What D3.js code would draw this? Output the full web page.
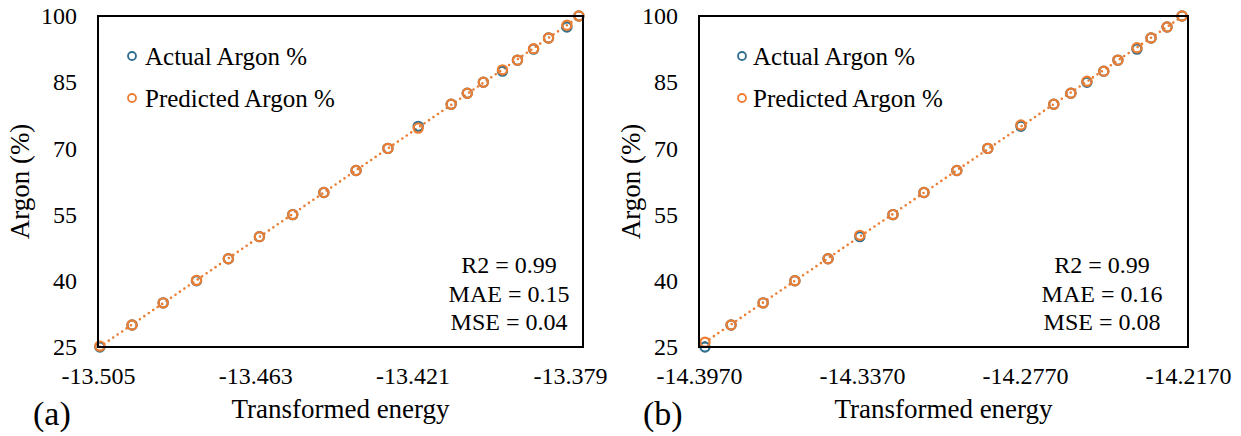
<!DOCTYPE html>
<html>
<head>
<meta charset="utf-8">
<script src="https://cdn.jsdelivr.net/npm/d3@7"></script>
<style>
  html, body { margin: 0; padding: 0; background: #fff; }
  svg { display: block; font-family: "Liberation Serif", "Times New Roman", serif; }
</style>
</head>
<body>
<svg id="chart" width="1241" height="436"></svg>
<script>
// Argon concentration levels (actual values, %)
const argonLevels = [25, 30, 35, 40, 45, 50, 55, 60, 65, 70, 75, 80, 82.5, 85, 87.5, 90, 92.5, 95, 97.5, 100];

// Panel (a): transformed energy and predicted argon %
const energyA = [-13.5045, -13.4959, -13.4876, -13.4787, -13.4702, -13.4619, -13.4530, -13.4447, -13.4361, -13.4276,
                 -13.4195, -13.4107, -13.4064, -13.4021, -13.3970, -13.3930, -13.3887, -13.3847, -13.3798, -13.3766];
const predictedA = [25.2, 30, 35, 40.1, 45, 50, 55, 60, 65, 70, 74.6, 80, 82.5, 85, 87.8, 90, 92.6, 95, 97.9, 100];

// Panel (b): transformed energy and predicted argon %
const energyB = [-14.3948, -14.3852, -14.3734, -14.3617, -14.3495, -14.3378, -14.3256, -14.3142, -14.3021, -14.2907,
                 -14.2785, -14.2664, -14.2601, -14.2542, -14.2480, -14.2428, -14.2358, -14.2306, -14.2247, -14.2192];
const predictedB = [26.1, 30, 35, 40, 45, 50.3, 55, 60, 65, 70, 75.3, 80, 82.5, 85.2, 87.5, 90, 92.8, 95, 97.5, 100];

// Axis ticks
const yTicks = [25, 40, 55, 70, 85, 100];
const xTicksA = [-13.505, -13.463, -13.421, -13.379];
const xTicksB = [-14.397, -14.337, -14.277, -14.217];

// Error metrics
const statsA = ["R2 = 0.99", "MAE = 0.15", "MSE = 0.04"];
const statsB = ["R2 = 0.99", "MAE = 0.16", "MSE = 0.08"];

const seriesNames = ["Actual Argon %", "Predicted Argon %"];
const colors = { actual: "#2f6f8f", predicted: "#ed7d31" };

const svg = d3.select("#chart");

// Fixed-decimal formatter that keeps a plain hyphen for negatives
const fixed = digits => v => v.toFixed(digits);

const panels = [
  { tag: "(a)", left: 98, right: 583, xDomain: [-13.505, -13.3755], xTicks: xTicksA, fmt: fixed(3),
    energy: energyA, predicted: predictedA, stats: statsA, legendX: 34, legendTextX: 47, statsX: 74,
    yTitleX: 29, tagX: 33 },
  { tag: "(b)", left: 699, right: 1188, xDomain: [-14.397, -14.217], xTicks: xTicksB, fmt: fixed(4),
    energy: energyB, predicted: predictedB, stats: statsB, legendX: 43, legendTextX: 54, statsX: 86,
    yTitleX: 640, tagX: 643 }
];

const plotTop = 16, plotBottom = 347;
const serif = "Liberation Serif, Times New Roman, serif";

panels.forEach(p => {
  const x = d3.scaleLinear().domain(p.xDomain).range([p.left, p.right]);
  const y = d3.scaleLinear().domain([25, 100]).range([plotBottom, plotTop]);
  const g = svg.append("g");

  // Y tick labels
  const yAxis = d3.axisLeft(y).tickValues(yTicks).tickSize(0).tickPadding(21).tickFormat(d3.format("d"));
  const ya = g.append("g").attr("transform", `translate(${p.left},0)`).call(yAxis);
  ya.attr("font-family", serif);
  ya.select(".domain").remove();
  ya.selectAll("text").attr("font-size", 24).attr("fill", "#000");

  // X tick labels
  const xAxis = d3.axisBottom(x).tickValues(p.xTicks).tickSize(0).tickPadding(20).tickFormat(p.fmt);
  const xa = g.append("g").attr("transform", `translate(0,${plotBottom})`).call(xAxis);
  xa.attr("font-family", serif);
  xa.select(".domain").remove();
  xa.selectAll("text").attr("font-size", 24).attr("fill", "#000");

  // Linear trendline of the predicted values
  const n = p.energy.length;
  const mx = d3.mean(p.energy), my = d3.mean(p.predicted);
  let sxy = 0, sxx = 0;
  for (let i = 0; i < n; i++) {
    sxy += (p.energy[i] - mx) * (p.predicted[i] - my);
    sxx += (p.energy[i] - mx) ** 2;
  }
  const slope = sxy / sxx, icpt = my - slope * mx;
  const [e0, e1] = d3.extent(p.energy);
  const trend = [[e0, slope * e0 + icpt], [e1, slope * e1 + icpt]];

  g.append("path")
    .datum(trend)
    .attr("d", d3.line().x(d => x(d[0])).y(d => y(Math.max(25, Math.min(100, d[1])))))
    .attr("fill", "none")
    .attr("stroke", colors.predicted)
    .attr("stroke-width", 2.6)
    .attr("stroke-linecap", "round")
    .attr("stroke-dasharray", "0 5.4");

  // Actual markers
  g.append("g").selectAll("circle")
    .data(argonLevels.map((v, i) => [p.energy[i], v]))
    .join("circle")
    .attr("cx", d => x(d[0])).attr("cy", d => y(d[1])).attr("r", 4.6)
    .attr("fill", "none").attr("stroke", colors.actual).attr("stroke-width", 2.2);

  // Predicted markers
  g.append("g").selectAll("circle")
    .data(p.predicted.map((v, i) => [p.energy[i], v]))
    .join("circle")
    .attr("cx", d => x(d[0])).attr("cy", d => y(d[1])).attr("r", 4.6)
    .attr("fill", "none").attr("stroke", colors.predicted).attr("stroke-width", 2.2);

  // Plot frame
  g.append("rect")
    .attr("x", p.left).attr("y", plotTop)
    .attr("width", p.right - p.left).attr("height", plotBottom - plotTop)
    .attr("fill", "none").attr("stroke", "#000").attr("stroke-width", 2);

  // Legend
  const lg = g.append("g");
  [colors.actual, colors.predicted].forEach((c, i) => {
    const cy = 56 + i * 42;
    lg.append("circle").attr("cx", p.left + p.legendX).attr("cy", cy).attr("r", 4)
      .attr("fill", "none").attr("stroke", c).attr("stroke-width", 1.8);
    lg.append("text").attr("x", p.left + p.legendTextX).attr("y", cy + 9)
      .attr("font-size", 25).attr("fill", "#000").text(seriesNames[i]);
  });

  // Metrics
  g.append("g").selectAll("text")
    .data(p.stats)
    .join("text")
    .attr("x", p.right - p.statsX).attr("y", (d, i) => 273 + i * 28.5)
    .attr("text-anchor", "middle").attr("font-size", 24).attr("fill", "#000")
    .text(d => d);

  // Axis titles
  g.append("text")
    .attr("transform", `translate(${p.yTitleX},${(plotTop + plotBottom) / 2}) rotate(-90)`)
    .attr("text-anchor", "middle").attr("font-size", 27).attr("fill", "#000")
    .text("Argon (%)");
  g.append("text")
    .attr("x", (p.left + p.right) / 2).attr("y", 418)
    .attr("text-anchor", "middle").attr("font-size", 27).attr("fill", "#000")
    .text("Transformed energy");

  // Panel tag
  g.append("text").attr("x", p.tagX).attr("y", 425)
    .attr("font-size", 34).attr("fill", "#000").text(p.tag);
});
</script>
</body>
</html>
